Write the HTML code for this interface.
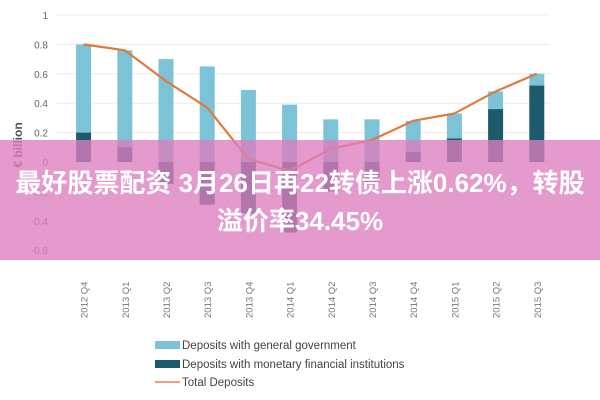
<!DOCTYPE html>
<html><head><meta charset="utf-8"><style>
body{margin:0;width:600px;height:400px;background:#fff;overflow:hidden;position:relative;font-family:"Liberation Sans","Noto Sans CJK SC",sans-serif}
#banner{position:absolute;left:0;top:140px;width:600px;height:120px;background:rgba(220,125,190,0.78);color:#fff;font-weight:bold;font-size:26px;text-align:center;line-height:38px;padding-top:24px;box-sizing:border-box;white-space:nowrap;font-family:"Liberation Sans","Noto Sans CJK SC",sans-serif}
</style></head><body>
<svg id="chart" width="600" height="400" style="position:absolute;left:0;top:0"></svg>
<div id="banner">最好股票配资 3月26日再22转债上涨0.62%，转股<br>溢价率34.45%</div>
<script>
const categories=["2012 Q4","2013 Q1","2013 Q2","2013 Q3","2013 Q4","2014 Q1","2014 Q2","2014 Q3","2014 Q4","2015 Q1","2015 Q2","2015 Q3"];
const govDeposits=[0.6,0.66,0.7,0.65,0.49,0.39,0.29,0.29,0.21,0.17,0.12,0.08];
const mfiDeposits=[0.2,0.1,-0.15,-0.29,-0.35,-0.48,-0.2,-0.14,0.07,0.16,0.36,0.52];
const totalDeposits=[0.8,0.76,0.55,0.37,0.02,-0.06,0.09,0.15,0.28,0.33,0.48,0.6];
const yTicks=[1,0.8,0.6,0.4,0.2,0,-0.2,-0.4,-0.6];
const yTickLabels=["1","0.8","0.6","0.4","0.2","0","-0.2","-0.4","-0.6"];
const svg=document.getElementById('chart');const NS="http://www.w3.org/2000/svg";
const y=v=>162-v*147;const x0=63,step=41.2;const x=i=>x0+step*(i+0.5);const bw=15;
function mk(t,a,p){const e=document.createElementNS(NS,t);for(const k in a)e.setAttribute(k,a[k]);(p||svg).appendChild(e);return e;}
yTicks.forEach((v,i)=>{
 const g=mk('line',{x1:57,x2:550,y1:y(v),y2:y(v),stroke:'#ececec','stroke-width':1});
 
 
 const t=mk('text',{x:48,y:y(v)+4,'text-anchor':'end','font-size':10,fill:'#666'});t.textContent=yTickLabels[i];
 
 
});
const yl=mk('text',{x:22,y:145,transform:'rotate(-90 22 145)','text-anchor':'middle','font-size':12,'font-weight':'bold',fill:'#555'});yl.textContent='€ billion';


categories.forEach((c,i)=>{
 const m=mfiDeposits[i],g=govDeposits[i];
 const base=m>0?m:0;
 const r1=mk('rect',{x:x(i)-bw/2,y:y(base+g),width:bw,height:y(base)-y(base+g),fill:'#7cc3d7'});
 
 
 const r2=mk('rect',{x:x(i)-bw/2,y:Math.min(y(m),y(0)),width:bw,height:Math.abs(y(m)-y(0)),fill:'#1c5a6c'});
 
 
 const t=mk('text',{x:0,y:0,transform:`translate(${x(i)+4},318) rotate(-90)`,'font-size':9.5,fill:'#777'});t.textContent=c;
 
 
});
const pl=mk('polyline',{points:totalDeposits.map((v,i)=>x(i)+','+y(v)).join(' '),fill:'none',stroke:'#e07a3a','stroke-width':2.2});


const leg=[['#7cc3d7','Deposits with general government',346,8],['#1c5a6c','Deposits with monetary financial institutions',365,8],['#f0a07a','Total Deposits',383,2]];
leg.forEach(l=>{
 const r=mk('rect',{x:155,y:l[2]-l[3]/2-1,width:25,height:l[3],fill:l[0]});
 
 
 const t=mk('text',{x:182,y:l[2]+3,'font-size':11.5,fill:'#444'});t.textContent=l[1];
 
 
});
</script>
</body></html>
